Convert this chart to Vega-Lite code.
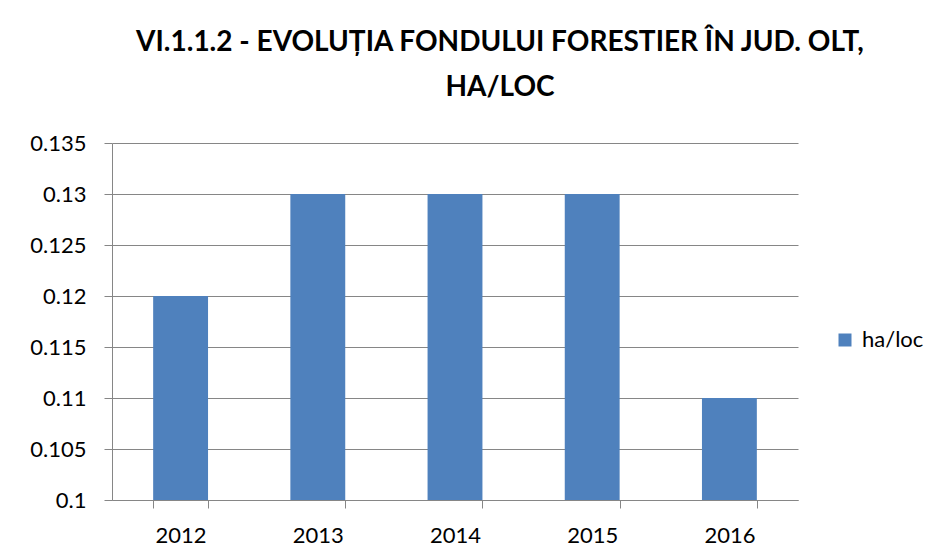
{
  "$schema": "https://vega.github.io/schema/vega-lite/v6.json",
  "width": 686,
  "height": 357,
  "autosize": {"type": "none"},
  "padding": {"left": 112, "top": 143, "right": 140, "bottom": 57},
  "background": "white",
  "config": {
    "view": {"stroke": null},
    "font": "Lato"
  },
  "title": {
    "text": ["VI.1.1.2 - EVOLUȚIA FONDULUI FORESTIER ÎN JUD. OLT,", "HA/LOC"],
    "font": "Lato",
    "fontSize": 28,
    "fontWeight": "bold",
    "color": "#000000",
    "anchor": "middle",
    "frame": "group",
    "dx": 45,
    "offset": 30,
    "lineHeight": 45
  },
  "data": {
    "values": [
      {"year": "2012", "series": "ha/loc", "value": 0.12},
      {"year": "2013", "series": "ha/loc", "value": 0.13},
      {"year": "2014", "series": "ha/loc", "value": 0.13},
      {"year": "2015", "series": "ha/loc", "value": 0.13},
      {"year": "2016", "series": "ha/loc", "value": 0.11}
    ]
  },
  "mark": {"type": "bar"},
  "encoding": {
    "x": {
      "field": "year",
      "type": "ordinal",
      "scale": {"paddingInner": 0.6, "paddingOuter": 0.3},
      "axis": {
        "title": null,
        "labelAngle": 0,
        "labelFont": "Lato",
        "labelFontSize": 22,
        "labelColor": "#000000",
        "labelPadding": 17,
        "tickBand": "extent",
        "tickSize": 8,
        "tickColor": "#868686",
        "domainColor": "#868686",
        "grid": false
      }
    },
    "y": {
      "field": "value",
      "type": "quantitative",
      "scale": {"domain": [0.1, 0.135], "nice": false, "zero": false},
      "axis": {
        "title": null,
        "values": [0.1, 0.105, 0.11, 0.115, 0.12, 0.125, 0.13, 0.135],
        "format": "~g",
        "labelFont": "Lato",
        "labelFontSize": 22,
        "labelColor": "#000000",
        "labelPadding": 18,
        "tickSize": 8,
        "tickColor": "#868686",
        "domainColor": "#868686",
        "gridColor": "#868686",
        "gridOpacity": 1
      }
    },
    "y2": {"datum": 0.1},
    "color": {
      "field": "series",
      "type": "nominal",
      "scale": {"range": ["#4F81BD"]},
      "legend": {
        "title": null,
        "orient": "none",
        "legendX": 722,
        "legendY": 186,
        "padding": 0,
        "symbolType": "square",
        "symbolSize": 169,
        "symbolStrokeWidth": 0,
        "labelFont": "Lato",
        "labelFontSize": 22,
        "labelColor": "#000000",
        "labelOffset": 6
      }
    }
  }
}
